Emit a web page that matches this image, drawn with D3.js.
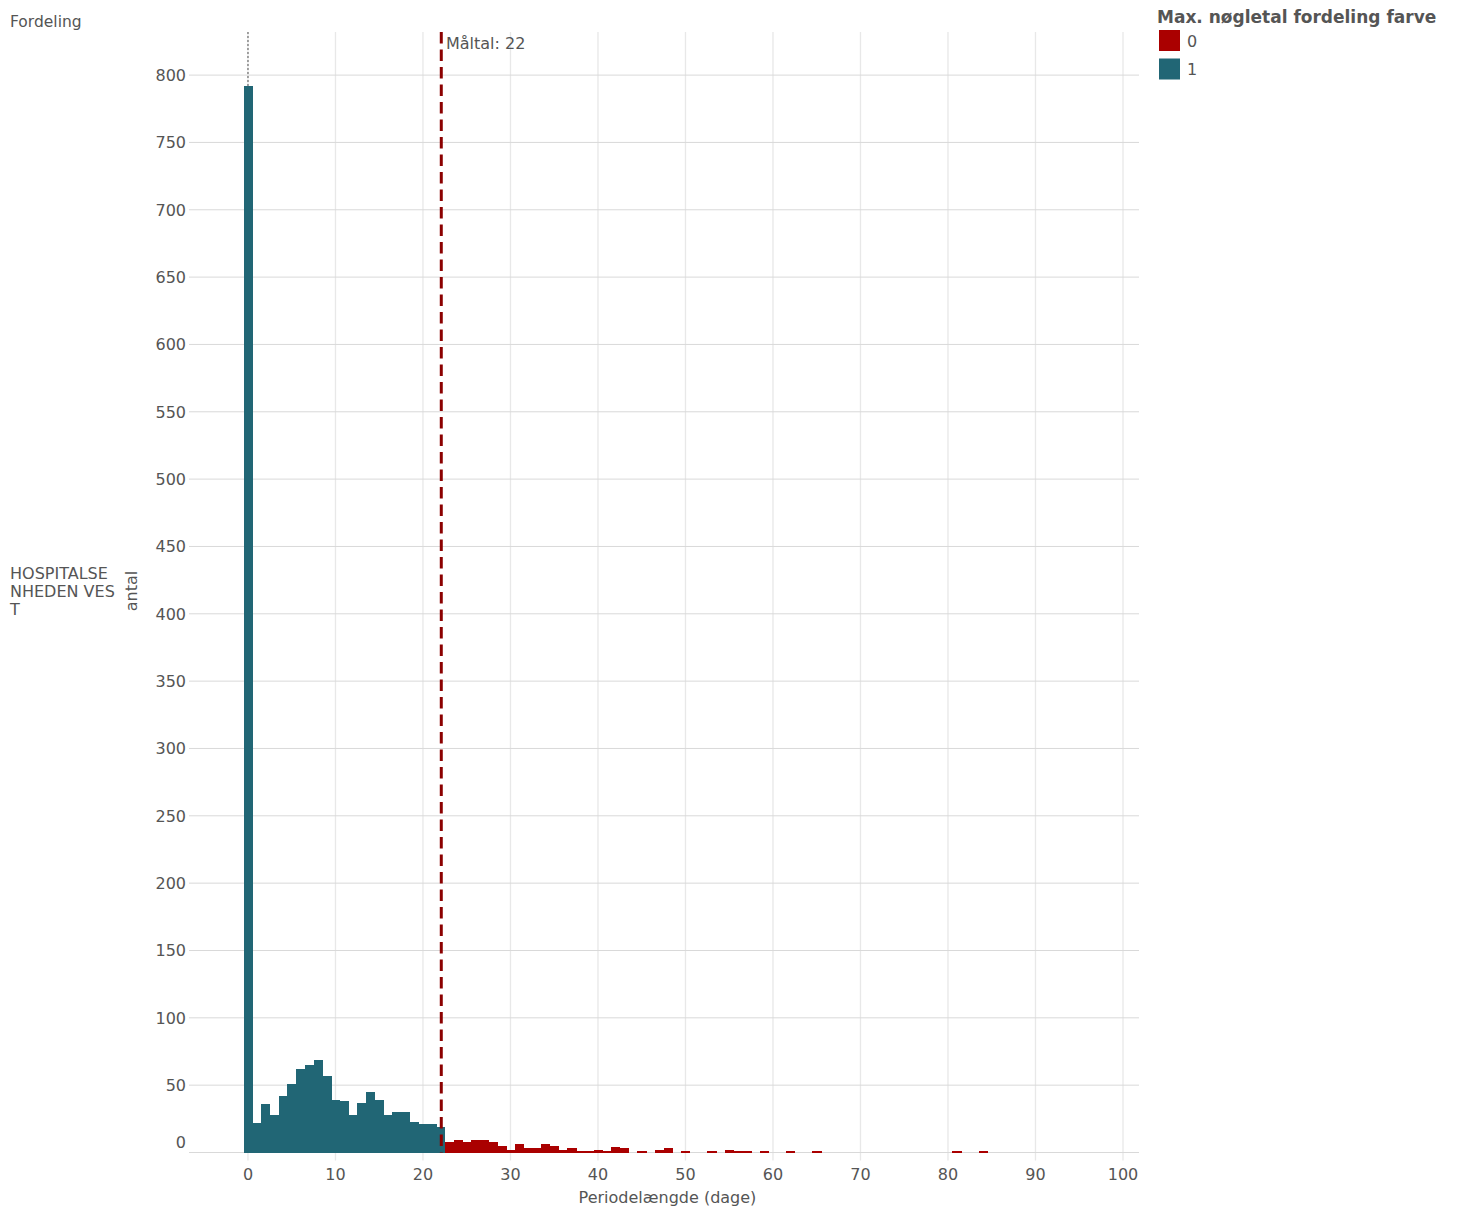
<!DOCTYPE html>
<html>
<head>
<meta charset="utf-8">
<script src="https://cdn.jsdelivr.net/npm/d3@7"></script>
<style>
  html, body { margin: 0; padding: 0; background: #fff; }
  svg text { font-family: "DejaVu Sans", Verdana, sans-serif; fill: #555; }
</style>
</head>
<body>
<svg id="chart" width="1457" height="1214"></svg>
<script>
// ---- data ----
const days   = [0,1,2,3,4,5,6,7,8,9,10,11,12,13,14,15,16,17,18,19,20,21,22,
                23,24,25,26,27,28,29,30,31,32,33,34,35,36,37,38,39,40,41,42,43,45,47,48,
                50,53,55,56,57,59,62,65,81,84];
const counts = [792,22,36,28,42,51,62,65,69,57,39,38,28,37,45,39,28,30,30,23,21,21,19,
                8,9,8,9,9,8,5,2,6,3,3,6,5,2,3,1,1,2,1,4,3,1,2,3,
                1,1,2,1,1,1,1,1,1,1];
const target = 22;            // Måltal
const medianLine = 0;         // dotted reference line
const legendKeys = ["0", "1"];
const legendColors = ["#aa0000", "#216675"];
const xTicks = [0,10,20,30,40,50,60,70,80,90,100];
const yTicks = [0,50,100,150,200,250,300,350,400,450,500,550,600,650,700,750,800];

const category = days.map(d => d <= target ? "1" : "0");

// ---- scales ----
const svg = d3.select("#chart");
const pLeft = 189, pRight = 1139, pTop = 32, pBottom = 1152.5;
const x = d3.scaleLinear().domain([-6.74, 101.83]).range([pLeft, pRight]);
const y = d3.scaleLinear().domain([0, 832]).range([pBottom, pTop]);
const color = d3.scaleOrdinal().domain(legendKeys).range(legendColors);
const bw = x(1) - x(0);

// vertical grid + ticks
svg.append("g").selectAll("line").data(xTicks).join("line")
  .attr("x1", d => x(d)).attr("x2", d => x(d))
  .attr("y1", pTop).attr("y2", pBottom + 8)
  .attr("stroke", "#e8e8e8").attr("stroke-width", 1.3);

// horizontal grid
svg.append("g").selectAll("line").data(yTicks).join("line")
  .attr("x1", pLeft).attr("x2", pRight)
  .attr("y1", d => y(d)).attr("y2", d => y(d))
  .attr("stroke", "#d9d9d9").attr("stroke-width", 1);

// y tick labels
svg.append("g").selectAll("text").data(yTicks).join("text")
  .attr("x", 186)
  .attr("y", d => y(d) + (d === 0 ? -10 : 0))
  .attr("dy", "0.36em")
  .attr("text-anchor", "end")
  .style("font-size", "16px")
  .text(d => d);

// x tick labels
svg.append("g").selectAll("text").data(xTicks).join("text")
  .attr("x", d => x(d)).attr("y", 1180)
  .attr("text-anchor", "middle")
  .style("font-size", "16px")
  .text(d => d);

// dotted line at 0
svg.append("line")
  .attr("x1", x(medianLine)).attr("x2", x(medianLine))
  .attr("y1", pTop).attr("y2", pBottom)
  .attr("stroke", "#777").attr("stroke-width", 1.3)
  .attr("stroke-dasharray", "2,2");

// bars
svg.append("g").attr("shape-rendering", "crispEdges")
  .selectAll("rect").data(days).join("rect")
  .attr("x", (d) => x(d) - bw / 2)
  .attr("width", bw + 0.5)
  .attr("y", (d, i) => y(counts[i]))
  .attr("height", (d, i) => pBottom - y(counts[i]))
  .attr("fill", (d, i) => color(category[i]));

// target dashed line
svg.append("line")
  .attr("x1", x(target) + 0.8).attr("x2", x(target) + 0.8)
  .attr("y1", pTop).attr("y2", pBottom)
  .attr("stroke", "#8b0000").attr("stroke-width", 3)
  .attr("stroke-dasharray", "11.5,6");

svg.append("text")
  .attr("x", x(target) + 5.5).attr("y", 49)
  .style("font-size", "16px")
  .text("Måltal: " + target);

// titles
svg.append("text").attr("x", 10).attr("y", 27)
  .style("font-size", "15.5px").text("Fordeling");

const facet = ["HOSPITALSE", "NHEDEN VES", "T"];
svg.append("g").selectAll("text").data(facet).join("text")
  .attr("x", 10).attr("y", (d, i) => 579 + i * 18)
  .style("font-size", "16px").text(d => d);

svg.append("text")
  .attr("transform", "translate(137,591) rotate(-90)")
  .attr("text-anchor", "middle")
  .style("font-size", "16px").text("antal");

svg.append("text")
  .attr("x", (x(0) + x(100)) / 2 - 18).attr("y", 1203)
  .attr("text-anchor", "middle")
  .style("font-size", "16px").text("Periodelængde (dage)");

// legend
svg.append("text").attr("x", 1157).attr("y", 23)
  .style("font-size", "17px").style("font-weight", "bold")
  .text("Max. nøgletal fordeling farve");
const lg = svg.append("g").selectAll("g").data(legendKeys).join("g")
  .attr("transform", (d, i) => `translate(1159,${30 + i * 28.5})`);
lg.append("rect").attr("width", 21).attr("height", 21).attr("fill", d => color(d));
lg.append("text").attr("x", 28).attr("y", 16.5)
  .style("font-size", "16px").text(d => d);
</script>
</body>
</html>
